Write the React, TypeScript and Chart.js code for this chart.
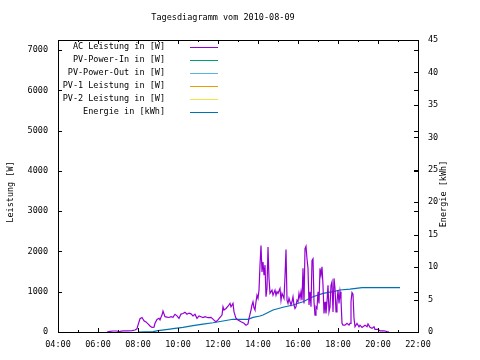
import React, { useEffect, useRef } from "react";
import { Chart, registerables } from "chart.js";

Chart.register(...registerables);

const TITLE = "Tagesdiagramm vom 2010-08-09";
const Y_LEFT_TITLE = "Leistung [W]";
const Y_RIGHT_TITLE = "Energie [kWh]";

const seriesLabels = [
  "AC Leistung in [W]",
  "PV-Power-In in [W]",
  "PV-Power-Out in [W]",
  "PV-1 Leistung in [W]",
  "PV-2 Leistung in [W]",
  "Energie in [kWh]",
];
const seriesColors = ["#9400d3", "#009e73", "#56b4e9", "#e69f00", "#f0e442", "#0072b2"];

const X_TICKS = [4, 6, 8, 10, 12, 14, 16, 18, 20, 22];
const Y_TICKS = [0, 1000, 2000, 3000, 4000, 5000, 6000, 7000];
const Y2_TICKS = [0, 5, 10, 15, 20, 25, 30, 35, 40, 45];

// AC Leistung (W)
const acTimes = [
  "06:27", "06:36", "06:45", "06:57", "07:03", "07:09", "07:18", "07:30", "07:42", "07:51",
  "07:57", "08:00", "08:06", "08:12", "08:18", "08:24", "08:30", "08:36", "08:42", "08:48",
  "08:51", "08:57", "09:03", "09:06", "09:09", "09:12", "09:15", "09:21", "09:27", "09:33",
  "09:39", "09:45", "09:51", "09:57", "10:03", "10:09", "10:15", "10:21", "10:27", "10:33",
  "10:39", "10:45", "10:51", "10:57", "11:03", "11:09", "11:15", "11:21", "11:30", "11:39",
  "11:45", "11:51", "11:54", "12:00", "12:06", "12:12", "12:15", "12:18", "12:24", "12:30",
  "12:36", "12:39", "12:45", "12:48", "12:54", "13:00", "13:09", "13:18", "13:24", "13:30",
  "13:33", "13:39", "13:42", "13:45", "13:48", "13:51", "13:54", "13:57", "14:00", "14:03",
  "14:06", "14:09", "14:12", "14:15", "14:18", "14:21", "14:24", "14:27", "14:30", "14:33",
  "14:36", "14:42", "14:45", "14:51", "14:54", "14:57", "15:00", "15:06", "15:09", "15:12",
  "15:18", "15:21", "15:24", "15:27", "15:30", "15:33", "15:36", "15:39", "15:42", "15:45",
  "15:48", "15:51", "15:54", "15:57", "16:00", "16:03", "16:06", "16:09", "16:12", "16:15",
  "16:18", "16:21", "16:24", "16:27", "16:30", "16:33", "16:36", "16:39", "16:42", "16:45",
  "16:48", "16:51", "16:54", "16:57", "17:00", "17:03", "17:06", "17:09", "17:12", "17:15",
  "17:18", "17:21", "17:24", "17:27", "17:30", "17:33", "17:36", "17:39", "17:42", "17:45",
  "17:48", "17:51", "17:54", "17:57", "18:00", "18:03", "18:06", "18:09", "18:12", "18:15",
  "18:21", "18:27", "18:33", "18:36", "18:39", "18:42", "18:45", "18:48", "18:51", "18:57",
  "19:03", "19:06", "19:12", "19:21", "19:27", "19:30", "19:36", "19:42", "19:48", "19:51",
  "20:00", "20:06", "20:18", "20:27", "20:33",
];
const acWatts = [
  0, 15, 25, 25, 5, 20, 30, 30, 35, 50,
  80, 170, 330, 360, 280, 250, 200, 150, 115, 120,
  215, 310, 340, 300, 365, 420, 520, 380, 370, 360,
  380, 365, 440, 400, 340, 445, 460, 490, 440, 470,
  450, 400, 440, 340, 400, 380, 360, 380, 355, 365,
  320, 270, 255, 300, 365, 420, 625, 545, 585, 640,
  710, 625, 710, 500, 340, 300, 255, 215, 170, 200,
  340, 545, 670, 750, 600, 545, 750, 915, 835, 1040,
  1660, 2150, 1490, 1740, 1410, 1660, 875, 1080, 2110, 1330,
  960, 1040, 915, 1040, 915, 1000, 960, 1080, 790, 960,
  835, 1370, 2050, 790, 710, 835, 750, 670, 750, 875,
  670, 585, 625, 790, 750, 960, 835, 1000, 790, 1580,
  710, 2070, 2130, 1820, 1580, 670, 1000, 625, 1780, 1820,
  750, 420, 625, 585, 1000, 710, 1580, 1410, 1620, 1160,
  460, 750, 460, 750, 1160, 500, 625, 1160, 1245, 500,
  1330, 1080, 500, 750, 1040, 710, 1000, 790, 215, 170,
  170, 215, 170, 215, 750, 980, 940, 340, 130, 215,
  130, 170, 115, 170, 130, 200, 115, 90, 130, 65,
  65, 30, 30, 10, 0,
];

// Energie (kWh)
const energyTimes = [
  "08:00", "08:45", "09:00", "09:30", "09:51", "10:15", "10:45", "11:15", "11:45", "12:15",
  "12:45", "13:30", "13:45", "14:06", "14:15", "14:45", "15:15", "15:45", "16:15", "16:45",
  "17:15", "17:45", "18:06", "18:36", "19:12", "21:06",
];
const energyKWh = [
  0, 0.05, 0.2, 0.4, 0.55, 0.72, 0.97, 1.2, 1.43, 1.7,
  1.96, 1.96, 2.26, 2.47, 2.62, 3.39, 3.81, 4.16, 4.67, 5.44,
  5.96, 6.21, 6.47, 6.6, 6.85, 6.85,
];

const X_MIN = 4;
const X_MAX = 22;
const Y_MAX = 7250;
const Y2_MAX = 45;

const FONT = "'DejaVu Sans Mono', 'Liberation Mono', monospace";

function toHours(t: string): number {
  const [h, m] = t.split(":").map(Number);
  return h + m / 60;
}

const overlayPlugin = {
  id: "gnuplotOverlay",
  afterDatasetsDraw(chart: any) {
    const { ctx, chartArea } = chart;
    const { left, right, top, bottom } = chartArea;
    const xs = chart.scales.x;
    const ys = chart.scales.y;
    const y2 = chart.scales.y2;
    ctx.save();
    ctx.strokeStyle = "#000";
    ctx.lineWidth = 1;
    ctx.strokeRect(Math.round(left) + 0.5, Math.round(top) + 0.5, Math.round(right - left), Math.round(bottom - top));
    ctx.beginPath();
    for (let h = X_MIN; h <= X_MAX; h++) {
      const px = Math.round(xs.getPixelForValue(h)) + 0.5;
      const len = h % 2 === 0 ? 4 : 2;
      ctx.moveTo(px, bottom);
      ctx.lineTo(px, bottom - len);
      ctx.moveTo(px, top);
      ctx.lineTo(px, top + len);
    }
    for (const v of Y_TICKS) {
      const py = Math.round(ys.getPixelForValue(v)) + 0.5;
      ctx.moveTo(left, py);
      ctx.lineTo(left + 4, py);
      ctx.moveTo(right, py);
      ctx.lineTo(right - 4, py);
    }
    for (const v of Y2_TICKS) {
      const py = Math.round(y2.getPixelForValue(v)) + 0.5;
      ctx.moveTo(right, py);
      ctx.lineTo(right - 4, py);
    }
    ctx.stroke();

    ctx.font = `8.5px ${FONT}`;
    ctx.textBaseline = "middle";
    ctx.textAlign = "right";
    seriesLabels.forEach((lab, i) => {
      const y = 47 + i * 13;
      ctx.fillStyle = "#000";
      ctx.fillText(lab, 165, y);
      ctx.beginPath();
      ctx.strokeStyle = seriesColors[i];
      ctx.lineWidth = 1;
      ctx.moveTo(190, Math.round(y) + 0.5);
      ctx.lineTo(218, Math.round(y) + 0.5);
      ctx.stroke();
    });

    ctx.fillStyle = "#000";
    ctx.textAlign = "center";
    ctx.fillText(TITLE, 223, 18);

    ctx.save();
    ctx.translate(11, 192);
    ctx.rotate(-Math.PI / 2);
    ctx.fillText(Y_LEFT_TITLE, 0, 0);
    ctx.restore();
    ctx.save();
    ctx.translate(444, 194);
    ctx.rotate(-Math.PI / 2);
    ctx.fillText(Y_RIGHT_TITLE, 0, 0);
    ctx.restore();

    ctx.restore();
  },
};

export default function App() {
  const canvasRef = useRef<HTMLCanvasElement | null>(null);

  useEffect(() => {
    if (!canvasRef.current) return;
    const acData = acTimes.map((t, i) => ({ x: toHours(t), y: acWatts[i] }));
    const enData = energyTimes.map((t, i) => ({ x: toHours(t), y: energyKWh[i] }));
    const datasets: any[] = seriesLabels.map((label, i) => ({
      label,
      data: i === 0 ? acData : i === 5 ? enData : [],
      borderColor: seriesColors[i],
      backgroundColor: seriesColors[i],
      borderWidth: 1.2,
      pointRadius: 0,
      tension: 0,
      fill: false,
      yAxisID: i === 5 ? "y2" : "y",
    }));
    const tickFont = { family: FONT, size: 8.5 };
    const chart = new Chart(canvasRef.current, {
      type: "line",
      data: { datasets },
      options: {
        animation: false,
        responsive: false,
        devicePixelRatio: 1,
        layout: { padding: { top: 40, left: 0, right: 0, bottom: 0 } },
        plugins: { legend: { display: false }, title: { display: false }, tooltip: { enabled: false } },
        scales: {
          x: {
            type: "linear",
            min: X_MIN,
            max: X_MAX,
            grid: { display: false, drawTicks: false },
            border: { display: false },
            afterBuildTicks: (s: any) => {
              s.ticks = X_TICKS.map((v) => ({ value: v }));
            },
            ticks: {
              color: "#000",
              font: tickFont,
              padding: 8,
              maxRotation: 0,
              autoSkip: false,
              callback: (v: any) => `${String(v).padStart(2, "0")}:00`,
            },
            afterFit: (s: any) => {
              s.height = 28;
            },
          },
          y: {
            type: "linear",
            position: "left",
            min: 0,
            max: Y_MAX,
            grid: { display: false, drawTicks: false },
            border: { display: false },
            afterBuildTicks: (s: any) => {
              s.ticks = Y_TICKS.map((v) => ({ value: v }));
            },
            ticks: { color: "#000", font: tickFont, padding: 10, autoSkip: false, callback: (v: any) => String(v) },
            afterFit: (s: any) => {
              s.width = 58;
            },
          },
          y2: {
            type: "linear",
            position: "right",
            min: 0,
            max: Y2_MAX,
            grid: { display: false, drawTicks: false },
            border: { display: false },
            afterBuildTicks: (s: any) => {
              s.ticks = Y2_TICKS.map((v) => ({ value: v }));
            },
            ticks: { color: "#000", font: tickFont, padding: 10, autoSkip: false, callback: (v: any) => String(v) },
            afterFit: (s: any) => {
              s.width = 62;
            },
          },
        },
      },
      plugins: [overlayPlugin],
    });
    return () => chart.destroy();
  }, []);

  return (
    <div style={{ position: "fixed", left: 0, top: 0, width: 480, height: 360, background: "#fff" }}>
      <canvas ref={canvasRef} width={480} height={360} />
    </div>
  );
}
